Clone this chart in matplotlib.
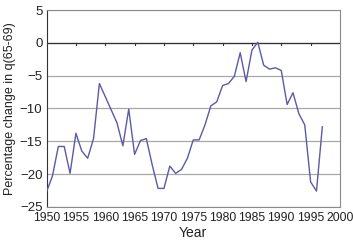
import matplotlib
matplotlib.use('Agg')
from matplotlib import pyplot as plt

years = list(range(1950, 1998))
change = [-22.7, -20.3, -15.8, -15.8, -19.9, -13.8, -16.5, -17.6, -14.6, -6.2,
          -8.2, -10.2, -12.2, -15.7, -10.1, -17.0, -14.9, -14.6, -18.6, -22.2,
          -22.2, -18.8, -19.9, -19.3, -17.6, -14.8, -14.8, -12.5, -9.6, -9.0,
          -6.5, -6.2, -5.1, -1.5, -5.9, -1.1, 0.1, -3.4, -4.0, -3.8,
          -4.2, -9.4, -7.6, -10.8, -12.5, -21.2, -22.6, -12.8]

x_ticks = list(range(1950, 2001, 5))
y_ticks = list(range(-25, 6, 5))

plt.rcParams['font.family'] = ['Liberation Sans', 'DejaVu Sans']

fig = plt.figure(figsize=(3.53, 2.41), dpi=100)
ax = fig.add_axes([0.132, 0.142, 0.831, 0.816])

for y in y_ticks:
	ax.axhline(y, color='#a8a8a8', lw=0.9, zorder=1)
ax.axhline(0, color='#333333', lw=0.9, zorder=2)
# small tick marks on the zero line
for x in x_ticks[1:-1]:
	ax.plot([x, x], [0, -0.35], color='#333333', lw=0.8, zorder=2)

ax.plot(years, change, color='#5a5aa8', lw=1.0, zorder=3)

ax.set_xlim(1950, 2000)
ax.set_ylim(-25, 5)
ax.set_xticks(x_ticks)
ax.set_yticks(y_ticks)
ax.tick_params(axis='y', length=0, labelsize=9.5, pad=3, labelcolor='#222222')
ax.tick_params(axis='x', length=0, labelsize=8.8, pad=4, labelcolor='#222222')
for side in ['top', 'right', 'bottom']:
	ax.spines[side].set_color('#8a8a8a')
ax.spines['left'].set_color('#333333')

ax.set_xlabel('Year', fontsize=10, labelpad=1, color='#222222')
ax.set_ylabel('Percentage change in q(65-69)', fontsize=9, labelpad=3, color='#222222')

fig.savefig('out.png', dpi=100)
